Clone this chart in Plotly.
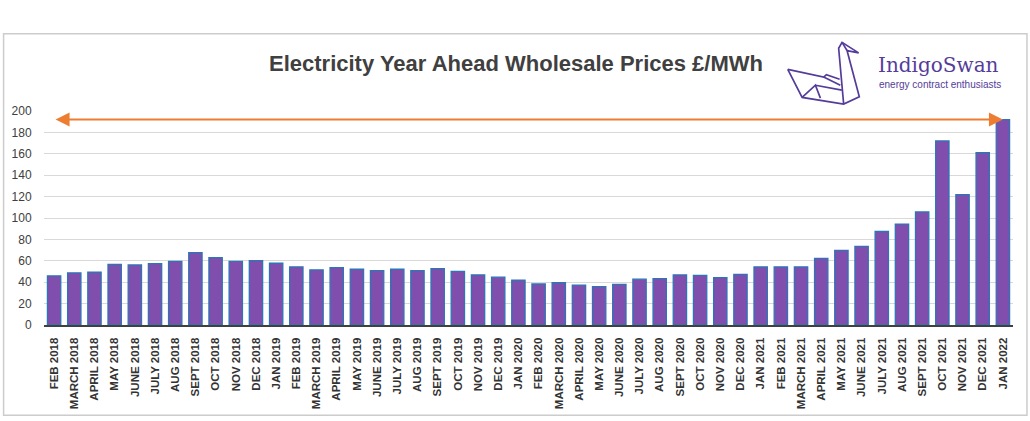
import plotly.graph_objects as go

months = ["FEB 2018", "MARCH 2018", "APRIL 2018", "MAY 2018", "JUNE 2018", "JULY 2018",
          "AUG 2018", "SEPT 2018", "OCT 2018", "NOV 2018", "DEC 2018", "JAN 2019",
          "FEB 2019", "MARCH 2019", "APRIL 2019", "MAY 2019", "JUNE 2019", "JULY 2019",
          "AUG 2019", "SEPT 2019", "OCT 2019", "NOV 2019", "DEC 2019", "JAN 2020",
          "FEB 2020", "MARCH 2020", "APRIL 2020", "MAY 2020", "JUNE 2020", "JULY 2020",
          "AUG 2020", "SEPT 2020", "OCT 2020", "NOV 2020", "DEC 2020", "JAN 2021",
          "FEB 2021", "MARCH 2021", "APRIL 2021", "MAY 2021", "JUNE 2021", "JULY 2021",
          "AUG 2021", "SEPT 2021", "OCT 2021", "NOV 2021", "DEC 2021", "JAN 2022"]

prices = [45.9, 48.7, 49.3, 56.7, 56.1, 57.4,
          59.5, 67.6, 63.0, 59.5, 60.2, 57.7,
          54.3, 51.5, 53.6, 52.1, 50.9, 52.1,
          50.9, 52.7, 50.2, 46.8, 44.7, 41.8,
          38.3, 39.5, 37.3, 35.8, 37.9, 42.8,
          43.4, 46.8, 46.3, 44.2, 47.4, 54.3,
          54.3, 54.3, 62.3, 69.8, 73.5, 87.4,
          94.3, 105.7, 172.0, 121.9, 161.0, 192.0]

y_ticks = [0, 20, 40, 60, 80, 100, 120, 140, 160, 180, 200]

title_text = "Electricity Year Ahead Wholesale Prices £/MWh"
brand_name = "IndigoSwan"
brand_tagline = "energy contract enthusiasts"

W, H = 1030, 421
ML, MR, MT, MB = 42, 17, 111, 94
PW, PH = W - ML - MR, H - MT - MB


def px_x(px):
    return (px - ML) / PW


def px_y(py):
    return (H - MB - py) / PH


def path_from(points, closed=False):
    s = "M " + " L ".join(f"{px_x(x):.5f},{px_y(y):.5f}" for x, y in points)
    return s + (" Z" if closed else "")


fig = go.Figure()
fig.add_trace(go.Bar(
    x=months, y=prices,
    marker=dict(color="rgb(128,78,172)", line=dict(color="rgb(46,117,182)", width=1.3)),
    hoverinfo="x+y",
))

PURPLE = "#553c9a"
swan_lines = [
    [(787.3, 69), (801.7, 97.3), (843.3, 104), (859, 96.7), (846.7, 50), (858.3, 52.3),
     (841.7, 41.7), (838.3, 47.7), (843.3, 104)],
    [(787.3, 69), (823.3, 76.7), (826, 74.3), (839.3, 79)],
    [(801.7, 97.3), (815, 85), (820, 98)],
    [(815, 85), (841.5, 90)],
    [(823.3, 76.7), (840, 85)],
    [(841.7, 41.7), (846.7, 50)],
]

shapes = []
for pts in swan_lines:
    shapes.append(dict(type="path", xref="paper", yref="paper", path=path_from(pts),
                       line=dict(color=PURPLE, width=1.7)))

# outer frame
shapes.append(dict(type="rect", xref="paper", yref="paper",
                   x0=px_x(1.5), x1=px_x(1027), y0=px_y(418), y1=px_y(33),
                   line=dict(color="#cccccc", width=1.5), layer="below"))

annotations = [
    dict(text=f"<b>{title_text}</b>", xref="paper", yref="paper",
         x=px_x(515), y=px_y(63), showarrow=False, xanchor="center", yanchor="middle",
         font=dict(family="Liberation Sans", size=22, color="#404040")),
    dict(text=brand_name, xref="paper", yref="paper",
         x=px_x(876), y=px_y(65), showarrow=False, xanchor="left", yanchor="middle",
         font=dict(family="DejaVu Serif", size=20, color=PURPLE)),
    dict(text=brand_tagline, xref="paper", yref="paper",
         x=px_x(877), y=px_y(84), showarrow=False, xanchor="left", yanchor="middle",
         font=dict(family="Liberation Sans", size=10, color=PURPLE)),
    dict(x=len(months) - 1, y=prices[-1], ax=0, ay=prices[-1], xref="x", yref="y",
         axref="x", ayref="y", text="", showarrow=True, arrowside="end+start",
         arrowhead=2, arrowsize=1.4, arrowwidth=2, arrowcolor="#ed7d31", standoff=0,
         startstandoff=0, startarrowhead=2, startarrowsize=1.4),
]

fig.update_layout(
    width=W, height=H,
    margin=dict(l=ML, r=MR, t=MT, b=MB, pad=0),
    paper_bgcolor="white", plot_bgcolor="white",
    bargap=0.34, showlegend=False,
    shapes=shapes, annotations=annotations,
    font=dict(family="Liberation Sans", color="#404040"),
)
fig.update_xaxes(
    type="category", tickangle=-90, showline=True, linecolor="#404040", linewidth=2,
    ticks="outside", ticklen=6, tickcolor="rgba(0,0,0,0)", showgrid=False,
    tickfont=dict(family="Liberation Sans", size=11.5, color="#333333", weight="bold"),
)
fig.update_yaxes(
    range=[0, 200], tickvals=y_ticks, showgrid=True, gridcolor="#d9d9d9", gridwidth=1.3,
    zeroline=False, ticks="outside", ticklen=9, tickcolor="rgba(0,0,0,0)",
    tickfont=dict(family="Liberation Sans", size=12, color="#404040"),
)

fig.write_html("out.html", config={"displayModeBar": False},
               post_script="document.body.style.margin='0';document.body.style.overflow='hidden';")
